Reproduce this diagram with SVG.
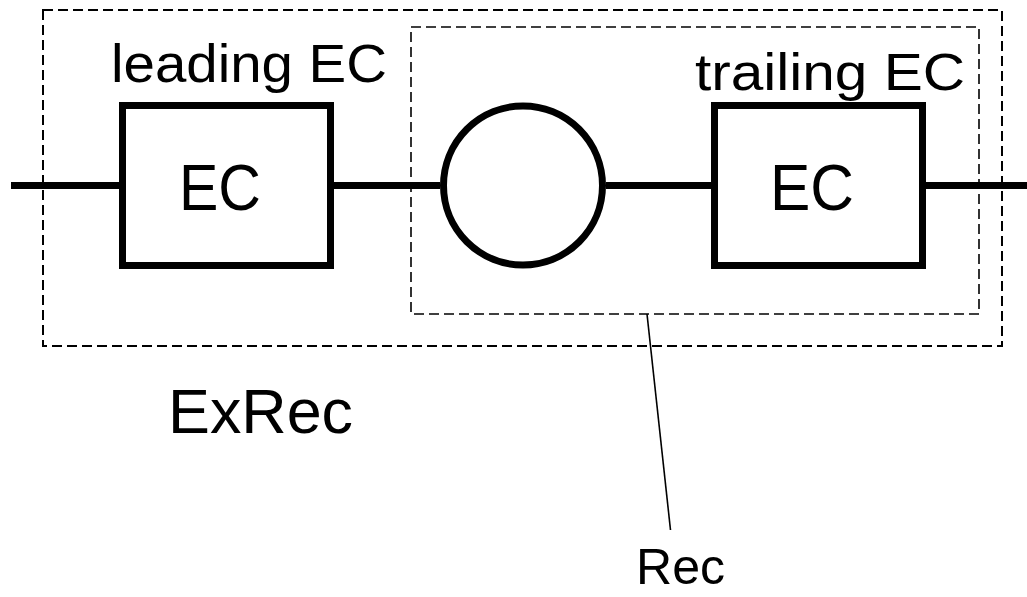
<svg xmlns="http://www.w3.org/2000/svg" width="1027" height="597" viewBox="0 0 1027 597">
<style>
.box{fill:#fff;stroke:#000;stroke-width:7}
.wire{stroke:#000;stroke-width:7;fill:none}
.dash{fill:none;stroke:#000;stroke-width:2;stroke-dasharray:10 5}
.dash2{fill:none;stroke:#000;stroke-width:1.6;stroke-dasharray:10 5}
.t{font-family:"Liberation Sans",Arial,sans-serif;fill:#000}
</style>
<rect width="1027" height="597" fill="#fff"/>
<g id="exrec-region">
<rect class="dash" x="43" y="10" width="959" height="336"/>
<text class="t" x="168" y="433" font-size="63" textLength="185" lengthAdjust="spacingAndGlyphs">ExRec</text>
</g>
<g id="rec-region">
<rect class="dash2" x="411" y="27" width="568" height="287"/>
<text class="t" x="636" y="584" font-size="50" textLength="89" lengthAdjust="spacingAndGlyphs">Rec</text>
</g>
<g id="connectors">
<line class="wire" x1="11" y1="185.5" x2="122" y2="185.5"/>
<line class="wire" x1="334" y1="185.5" x2="440" y2="185.5"/>
<line class="wire" x1="606" y1="185.5" x2="711" y2="185.5"/>
<line class="wire" x1="926" y1="185.5" x2="1027" y2="185.5"/>
<line x1="647" y1="314" x2="670.5" y2="530" stroke="#000" stroke-width="1.6"/>
</g>
<g id="leading-ec">
<rect class="box" x="122.5" y="105.5" width="208" height="160"/>
<text class="t" x="179" y="210" font-size="64" textLength="82" lengthAdjust="spacingAndGlyphs">EC</text>
<text class="t" x="111" y="82" font-size="54" textLength="276" lengthAdjust="spacingAndGlyphs">leading EC</text>
</g>
<g id="gate">
<circle class="box" cx="523" cy="185.5" r="79.5"/>
</g>
<g id="trailing-ec">
<rect class="box" x="714.5" y="105.5" width="208" height="160"/>
<text class="t" x="770" y="210" font-size="64" textLength="84" lengthAdjust="spacingAndGlyphs">EC</text>
<text class="t" x="695" y="90" font-size="52" textLength="270" lengthAdjust="spacingAndGlyphs">trailing EC</text>
</g>
</svg>
